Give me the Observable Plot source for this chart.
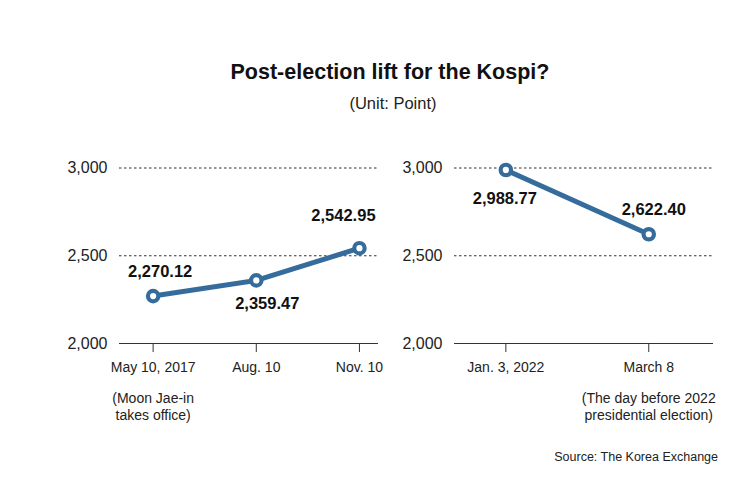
<!DOCTYPE html>
<html><head><meta charset="utf-8">
<script src="https://cdn.jsdelivr.net/npm/d3@7"></script>
<script src="https://cdn.jsdelivr.net/npm/@observablehq/plot@0.6"></script>
<style>
body{margin:0;background:#fff;font-family:"Liberation Sans",Arial,Helvetica,sans-serif;color:#111;}
#wrap{position:relative;width:750px;height:495px;overflow:hidden;background:#fff;}
#title{position:absolute;left:30px;width:720px;top:60px;line-height:24px;text-align:center;font-size:21.5px;font-weight:bold;color:#111;}
#sub{position:absolute;left:36px;width:714px;top:93px;line-height:20px;text-align:center;font-size:16.5px;color:#222;}
#left{position:absolute;left:0;top:139px;}
#right{position:absolute;left:390px;top:139px;}
#src{position:absolute;right:32px;top:449px;line-height:16px;font-size:12.5px;color:#222;}
</style></head><body>
<div id="wrap">
  <div id="title">Post-election lift for the Kospi?</div>
  <div id="sub">(Unit: Point)</div>
  <div id="left"></div>
  <div id="right"></div>
  <div id="src">Source: The Korea Exchange</div>
</div>
<script>
// ---- data ----
const dates2017 = ["2017-05-10", "2017-08-10", "2017-11-10"];
const labels2017 = ["May 10, 2017", "Aug. 10", "Nov. 10"];
const values2017 = [2270.12, 2359.47, 2542.95];
const notes2017 = ["(Moon Jae-in\ntakes office)", "", ""];

const dates2022 = ["2022-01-03", "2022-03-08"];
const labels2022 = ["Jan. 3, 2022", "March 8"];
const values2022 = [2988.77, 2622.40];
const notes2022 = ["", "(The day before 2022\npresidential election)"];

const yTicks = [2000, 2500, 3000];

// ---- drawing ----
const LINE = "#356c9b";
const fmt = d3.format(",.2f");

function panel(cfg) {
  const rows = cfg.dates.map((d, i) => ({
    date: new Date(d), value: cfg.values[i], label: cfg.labels[i], note: cfg.notes[i]
  }));
  const labelMap = new Map(rows.map(r => [+r.date, r.label]));
  const valueLabels = rows.map((r, i) => Plot.text([r], {
    x: "date", y: "value", text: d => fmt(d.value),
    dx: cfg.offsets[i][0], dy: cfg.offsets[i][1],
    fontSize: 16.5, fontWeight: "bold", fill: "#111"
  }));
  return Plot.plot({
    width: cfg.width, height: 300,
    marginLeft: cfg.marginLeft, marginRight: cfg.marginRight,
    marginTop: 28.5, marginBottom: 96,
    style: {fontFamily: '"Liberation Sans", Arial, Helvetica, sans-serif', background: "transparent", overflow: "visible"},
    x: {type: "utc", domain: cfg.domain.map(d => new Date(d))},
    y: {domain: [2000, 3000]},
    marks: [
      Plot.ruleY(yTicks.filter(v => v > 2000), {stroke: "#333", strokeWidth: 1, strokeDasharray: "2.5,2.5"}),
      Plot.ruleY([2000], {stroke: "#333", strokeWidth: 1.2}),
      Plot.axisY({ticks: yTicks, tickSize: 0, tickPadding: 12, tickFormat: d3.format(","), fontSize: 16, fill: "#222", label: null}),
      Plot.axisX({ticks: rows.map(r => r.date), tickSize: 9, tickPadding: 10, tickFormat: d => labelMap.get(+d), fontSize: 14, fill: "#222", stroke: "#333", label: null}),
      Plot.text(rows.filter(r => r.note), {x: "date", text: "note", frameAnchor: "bottom", lineAnchor: "top", dy: 48, fontSize: 14, lineHeight: 1.2, fill: "#222"}),
      Plot.line(rows, {x: "date", y: "value", stroke: LINE, strokeWidth: 5}),
      Plot.dot(rows, {x: "date", y: "value", r: 5.2, stroke: LINE, strokeWidth: 4.2, fill: "white"}),
      ...valueLabels
    ]
  });
}

document.getElementById("left").append(panel({
  dates: dates2017, labels: labels2017, values: values2017, notes: notes2017,
  domain: ["2017-04-10", "2017-11-27"], width: 390, marginLeft: 119, marginRight: 12,
  offsets: [[7, -24], [11, 23], [-16, -32]]
}));
document.getElementById("right").append(panel({
  dates: dates2022, labels: labels2022, values: values2022, notes: notes2022,
  domain: ["2021-12-11", "2022-04-06"], width: 360, marginLeft: 64, marginRight: 37,
  offsets: [[-1, 29], [5, -25]]
}));
</script>
</body></html>
